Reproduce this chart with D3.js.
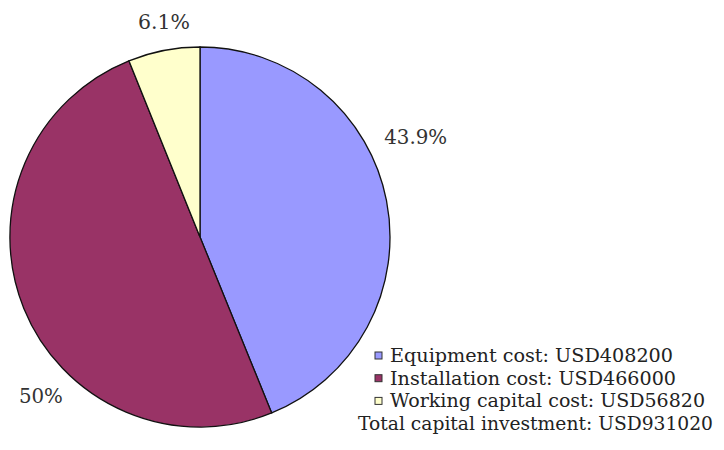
<!DOCTYPE html>
<html>
<head>
<meta charset="utf-8">
<script src="https://cdn.jsdelivr.net/npm/d3@7"></script>
<style>
  body { margin: 0; background: #fff; }
  text { font-family: "DejaVu Serif", serif; }
</style>
</head>
<body>
<svg id="chart" width="724" height="450"></svg>
<script>
// ==================================
// DATA
// ==================================
const categories = ["Equipment cost", "Installation cost", "Working capital cost"];
const costs = [408200, 466000, 56820];
const pctLabels = ["43.9%", "50%", "6.1%"];
const totalLabel = "Total capital investment: USD931020";

const colors = ["#9999ff", "#993366", "#ffffcc"];

// ==================================
// PIE
// ==================================
const cx = 200, cy = 237, R = 190;

const svg = d3.select("#chart");

const pie = d3.pie().sort(null).value(d => d.value);
const arcs = pie(categories.map((c, i) => ({ name: c, value: costs[i], color: colors[i], label: pctLabels[i] })));

const arc = d3.arc().innerRadius(0).outerRadius(R);

const g = svg.append("g").attr("transform", `translate(${cx},${cy})`);

g.selectAll("path")
  .data(arcs)
  .enter()
  .append("path")
  .attr("d", arc)
  .attr("fill", d => d.data.color)
  .attr("stroke", "#111")
  .attr("stroke-width", 1.3);

// label placement: angle (deg from top), radius and drawn width, outside the pie
const labelPos = [
  { ang: 65, r: 238, w: 63 },
  { ang: 225, r: 225, w: 44 },
  { ang: 350.5, r: 218, w: 52 }
];

g.selectAll("text.pct")
  .data(arcs)
  .enter()
  .append("text")
  .attr("x", (d, i) => labelPos[i].r * Math.sin(labelPos[i].ang * Math.PI / 180) - labelPos[i].w / 2)
  .attr("y", (d, i) => -labelPos[i].r * Math.cos(labelPos[i].ang * Math.PI / 180))
  .attr("dy", "0.35em")
  .attr("textLength", (d, i) => labelPos[i].w)
  .attr("lengthAdjust", "spacingAndGlyphs")
  .attr("font-size", 21)
  .attr("fill", "#333")
  .text(d => d.data.label);

// ==================================
// LEGEND
// ==================================
const legendX = 390, legendY = 362, lineH = 22.7;
const legendW = [283, 286, 315];

const legend = svg.append("g");

const items = legend.selectAll("g.item")
  .data(arcs)
  .enter()
  .append("g")
  .attr("transform", (d, i) => `translate(${legendX},${legendY + i * lineH})`);

items.append("rect")
  .attr("x", -15)
  .attr("y", -10)
  .attr("width", 7)
  .attr("height", 7)
  .attr("fill", d => d.data.color)
  .attr("stroke", "#333")
  .attr("stroke-width", 1);

items.append("text")
  .attr("font-size", 19)
  .attr("textLength", (d, i) => legendW[i])
  .attr("lengthAdjust", "spacingAndGlyphs")
  .attr("fill", "#222")
  .text(d => d.data.name + ": USD" + d.data.value);

legend.append("text")
  .attr("x", 358)
  .attr("y", legendY + 3 * lineH)
  .attr("font-size", 19)
  .attr("textLength", 355)
  .attr("lengthAdjust", "spacingAndGlyphs")
  .attr("fill", "#222")
  .text(totalLabel);
</script>
</body>
</html>
